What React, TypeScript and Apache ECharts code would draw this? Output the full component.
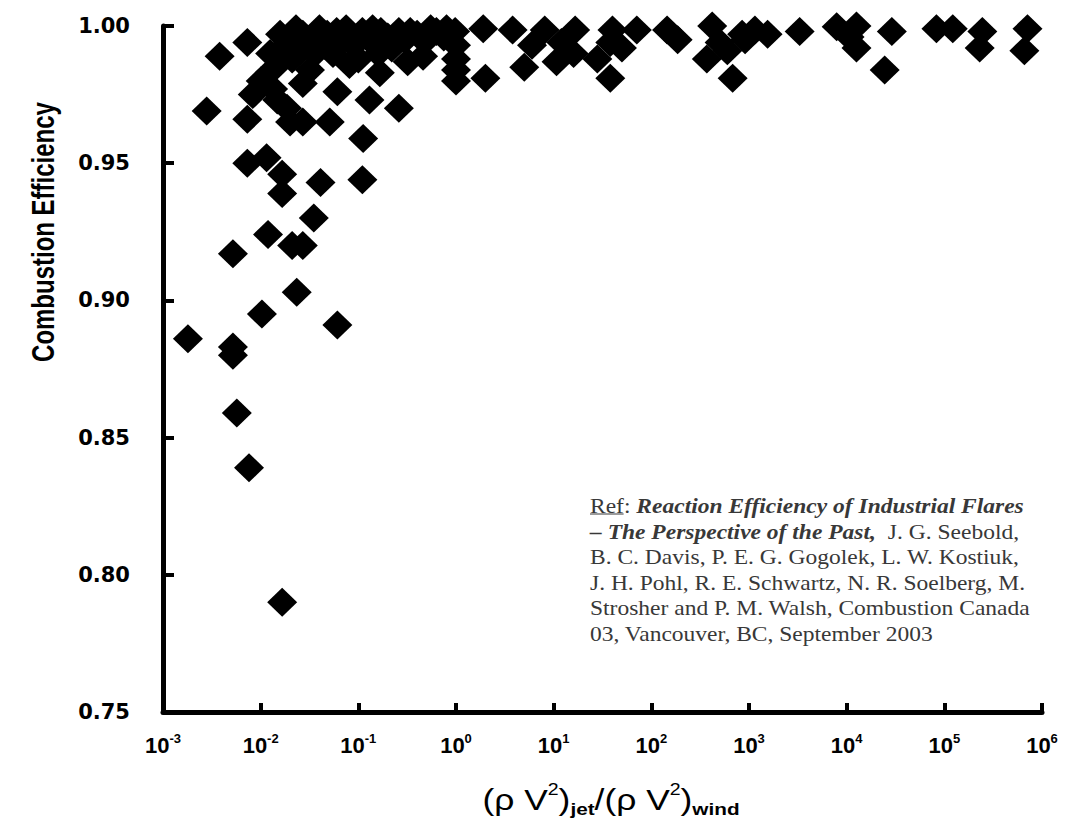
import React, { useEffect, useRef } from "react";
import * as echarts from "echarts";

// Momentum flux ratio (rho V^2)jet / (rho V^2)wind for each flare test
const ratio = [
  0.0018, 0.0028, 0.0038, 0.0052, 0.0052, 0.0052, 0.0057, 0.0073, 0.0073, 0.0073,
  0.0076, 0.0083, 0.0103, 0.010, 0.0115, 0.0119, 0.0134, 0.0148, 0.0166, 0.0166,
  0.0166, 0.0186, 0.020, 0.021, 0.0234, 0.027, 0.027, 0.027, 0.032, 0.035,
  0.041, 0.051, 0.061, 0.061, 0.081, 0.11, 0.112, 0.13, 0.166, 0.26,
  // dense band near complete combustion
  0.0158, 0.027, 0.048, 0.060, 0.11, 0.17, 0.26, 0.34, 0.63, 0.98,
  0.0125, 0.014, 0.018, 0.021, 0.023, 0.025, 0.030, 0.036, 0.040, 0.045,
  0.055, 0.070, 0.075, 0.090, 0.10, 0.13, 0.14, 0.16, 0.20, 0.22,
  0.30, 0.32, 0.40, 0.46, 0.50, 0.55, 0.75, 0.80, 1.0, 1.0,
  1.0, 1.0,
  1.9, 2.0, 3.8, 5.0, 6.0, 8.1, 10.7, 12, 16.6, 16,
  28, 38, 38, 40, 50, 71, 145, 186, 420, 370,
  500, 600, 680, 850, 912, 1150, 1550, 3300, 7900, 12600,
  10700, 12600, 29000, 24500, 83000, 122000, 245000, 230000, 710000, 660000,
];

// Measured combustion efficiency for each test
const efficiency = [
  0.886, 0.969, 0.989, 0.917, 0.883, 0.880, 0.859, 0.994, 0.966, 0.950,
  0.839, 0.975, 0.895, 0.980, 0.952, 0.924, 0.977, 0.973, 0.946, 0.939,
  0.790, 0.970, 0.965, 0.920, 0.903, 0.920, 0.965, 0.979, 0.984, 0.930,
  0.943, 0.965, 0.976, 0.891, 0.986, 0.944, 0.959, 0.973, 0.983, 0.970,
  0.997, 0.997, 0.997, 0.998, 0.998, 0.998, 0.998, 0.998, 0.998, 0.998,
  0.990, 0.985, 0.993, 0.988, 0.999, 0.992, 0.995, 0.990, 0.999, 0.993,
  0.990, 0.995, 0.999, 0.993, 0.988, 0.995, 0.999, 0.990, 0.996, 0.992,
  0.995, 0.987, 0.997, 0.989, 0.995, 0.999, 0.996, 0.999, 0.993, 0.988,
  0.984, 0.980,
  0.999, 0.981, 0.9985, 0.985, 0.993, 0.9985, 0.987, 0.994, 0.9985, 0.990,
  0.988, 0.994, 0.981, 0.9985, 0.992, 0.9985, 0.9985, 0.995, 1.0, 0.988,
  0.994, 0.991, 0.981, 0.997, 0.995, 0.9985, 0.997, 0.998, 0.9997, 1.0,
  0.996, 0.992, 0.998, 0.984, 0.999, 0.999, 0.998, 0.992, 0.999, 0.991,
];

const yTicks = { min: 0.75, max: 1.0, step: 0.05 };
const xRange = { min: 0.001, max: 1000000 };

const referenceLines = [
  "B. C. Davis, P. E. G. Gogolek, L. W. Kostiuk,",
  "J. H. Pohl, R. E. Schwartz, N. R. Soelberg, M.",
  "Strosher and P. M. Walsh, Combustion Canada",
  "03, Vancouver, BC, September 2003",
];

const SERIF = '"Liberation Serif", "Times New Roman", serif';
const SANS = '"Liberation Sans", Arial, sans-serif';
const WIDE_BOLD = '"DejaVu Sans", "Liberation Sans", sans-serif';

export default function App() {
  const ref = useRef<HTMLDivElement>(null);

  useEffect(() => {
    document.body.style.margin = "0";
    if (!ref.current) return;
    const chart = echarts.init(ref.current, undefined, { renderer: "svg" });

    const points = ratio.map((r, i) => [r, efficiency[i]]);

    const noteColor = "#383838";
    const lineTop = 506;
    const lineStep = 25.5;
    const noteRich = {
      n: { fontFamily: SERIF, fontSize: 21, fill: noteColor },
      bi: {
        fontFamily: SERIF,
        fontSize: 21,
        fontWeight: "bold",
        fontStyle: "italic",
        fill: noteColor,
      },
    };

    const noteChildren: any[] = [
      {
        type: "text",
        x: 0,
        y: lineTop,
        style: {
          text: "{n|Ref: }{bi|Reaction Efficiency of Industrial Flares}",
          verticalAlign: "middle",
          fill: noteColor,
          rich: noteRich,
        },
      },
      {
        type: "line",
        shape: { x1: 0, y1: lineTop + 8, x2: 30, y2: lineTop + 8 },
        style: { stroke: noteColor, lineWidth: 1 },
      },
      {
        type: "text",
        x: 0,
        y: lineTop + lineStep,
        style: {
          text: "{bi|\u2013 The Perspective of the Past,}{n|  J. G. Seebold,}",
          verticalAlign: "middle",
          fill: noteColor,
          rich: noteRich,
        },
      },
      ...referenceLines.map((t, i) => ({
        type: "text",
        x: 0,
        y: lineTop + lineStep * (i + 2),
        style: {
          text: t,
          fontFamily: SERIF,
          fontSize: 21,
          verticalAlign: "middle",
          fill: noteColor,
        },
      })),
    ];

    chart.setOption({
      animation: false,
      backgroundColor: "#fff",
      grid: {
        left: 163,
        right: 42,
        top: 26,
        bottom: 113,
        containLabel: false,
        outerBoundsMode: "none",
      },
      xAxis: {
        type: "log",
        logBase: 10,
        min: xRange.min,
        max: xRange.max,
        splitNumber: 9,
        splitLine: { show: false },
        axisLine: { show: true, lineStyle: { color: "#000", width: 5 } },
        axisTick: { show: true, inside: true, length: 9, lineStyle: { color: "#000", width: 4 } },
        axisLabel: {
          margin: 20,
          color: "#000",
          formatter: (v: number) => {
            const e = Math.round(Math.log10(v));
            return "{b|10}{s|" + e + "}";
          },
          rich: {
            b: { fontFamily: SANS, fontSize: 22, fontWeight: "bold", color: "#000", lineHeight: 26 },
            s: {
              fontFamily: SANS,
              fontSize: 13,
              fontWeight: "bold",
              color: "#000",
              lineHeight: 14,
              verticalAlign: "top",
            },
          },
        },
      },
      yAxis: {
        type: "value",
        min: yTicks.min,
        max: yTicks.max,
        interval: yTicks.step,
        splitLine: { show: false },
        axisLine: { show: true, lineStyle: { color: "#000", width: 5 } },
        axisTick: { show: true, inside: true, length: 11, lineStyle: { color: "#000", width: 4 } },
        axisLabel: {
          margin: 33,
          color: "#000",
          fontFamily: WIDE_BOLD,
          fontSize: 21,
          fontWeight: "bold",
          formatter: (v: number) => v.toFixed(2),
        },
      },
      series: [
        {
          type: "scatter",
          data: points,
          symbol: "diamond",
          symbolSize: [30, 29],
          itemStyle: { color: "#000", opacity: 1 },
          clip: false,
        },
      ],
      graphic: [
        {
          type: "text",
          x: 43,
          y: 232,
          rotation: Math.PI / 2,
          scaleX: 0.75,
          style: {
            text: "Combustion Efficiency",
            fontFamily: SANS,
            fontSize: 32,
            fontWeight: "bold",
            align: "center",
            verticalAlign: "middle",
            fill: "#000",
          },
        },
        {
          type: "text",
          x: 611,
          y: 800,
          scaleX: 1.22,
          style: {
            text: "{m|(\u03c1 V}{p|2}{m|)}{b|jet}{m|/(\u03c1 V}{p|2}{m|)}{b|wind}",
            align: "center",
            verticalAlign: "middle",
            fill: "#000",
            rich: {
              m: { fontFamily: SANS, fontSize: 29, fill: "#000", lineHeight: 36 },
              p: { fontFamily: SANS, fontSize: 16, fill: "#000", lineHeight: 17, verticalAlign: "top" },
              b: { fontFamily: SANS, fontSize: 17, fontWeight: "bold", fill: "#000", lineHeight: 17, verticalAlign: "bottom" },
            },
          },
        },
        {
          type: "group",
          x: 590,
          y: 0,
          scaleX: 1.12,
          children: noteChildren,
        },
      ],
    });

    return () => chart.dispose();
  }, []);

  return <div ref={ref} style={{ width: 1084, height: 825 }} />;
}
